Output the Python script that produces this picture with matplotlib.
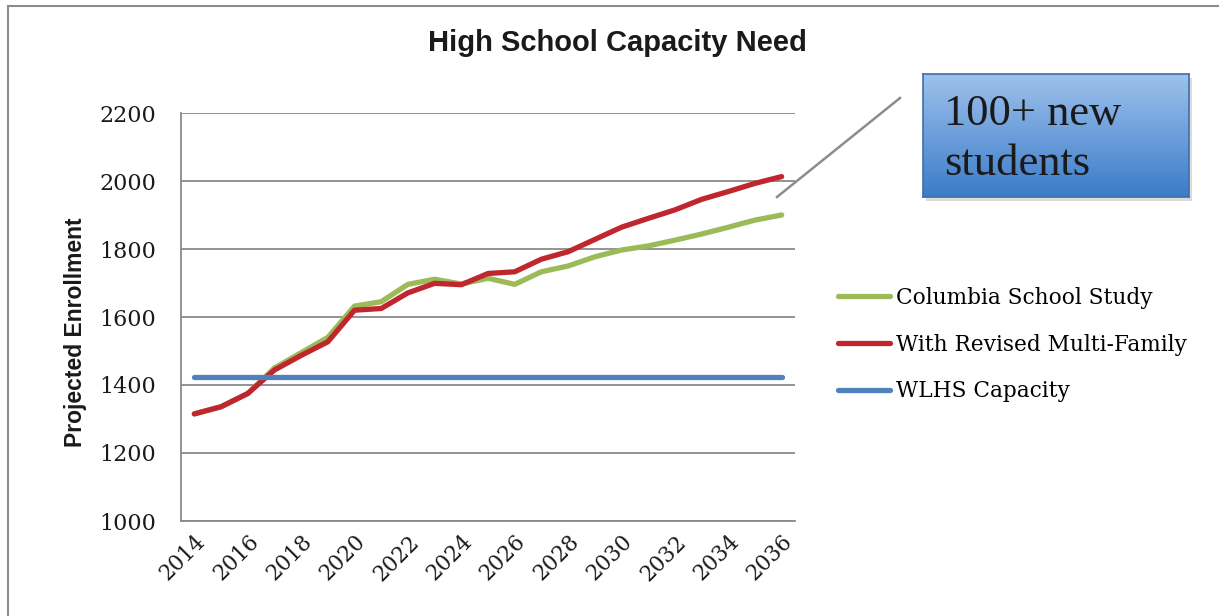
import numpy as np
import matplotlib.pyplot as plt
from matplotlib.lines import Line2D
from matplotlib.patches import Rectangle
from matplotlib.colors import LinearSegmentedColormap

years = list(range(2014, 2037))
columbia = [1315, 1336, 1375, 1450, 1495, 1540, 1632, 1645, 1696, 1711, 1697, 1714,
            1696, 1733, 1750, 1777, 1797, 1809, 1826, 1844, 1864, 1885, 1900]
revised = [1315, 1336, 1375, 1444, 1487, 1527, 1620, 1625, 1671, 1699, 1695, 1728,
           1733, 1770, 1792, 1828, 1864, 1890, 1915, 1946, 1969, 1993, 2013]
capacity = [1423, 1423, 1423, 1423, 1423, 1423, 1423, 1423, 1423, 1423, 1423, 1423,
            1423, 1423, 1423, 1423, 1423, 1423, 1423, 1423, 1423, 1423, 1423]
series_names = ["Columbia School Study", "With Revised Multi-Family", "WLHS Capacity"]
colors = ["#9BBB59", "#C0262D", "#4F81BD"]

W, H = 1219, 616


def fx(px):
    return px / W


def fy(py):
    return 1 - py / H


def main():
    fig = plt.figure(figsize=(W / 100, H / 100), dpi=100)
    ax = fig.add_axes([fx(181), fy(521), fx(795) - fx(181), fy(113) - fy(521)])

    x = np.arange(len(years))
    for vals, name, c in zip([columbia, revised, capacity], series_names, colors):
        ax.plot(x, vals, color=c, lw=3.8, label=name, solid_capstyle="round")

    ax.set_xlim(-0.5, len(years) - 0.5)
    ax.set_ylim(1000, 2200)
    ax.set_yticks(np.arange(1000, 2201, 200))
    ax.set_xticks(x[::2])
    ax.set_xticklabels([str(y) for y in years[::2]], rotation=45, ha="right",
                       va="top", rotation_mode="anchor")
    ax.grid(axis="y", color="#8a8a8a", lw=1.3)
    ax.set_axisbelow(True)
    for s in ["top", "right"]:
        ax.spines[s].set_visible(False)
    for s in ["left", "bottom"]:
        ax.spines[s].set_color("#8a8a8a")
        ax.spines[s].set_linewidth(1.3)
    ax.tick_params(axis="y", length=0, pad=18, labelsize=16, labelcolor="#1a1a1a")
    ax.tick_params(axis="x", length=0, pad=7, labelsize=15.5, labelcolor="#1a1a1a")
    for lab in ax.get_xticklabels() + ax.get_yticklabels():
        lab.set_family("DejaVu Serif")

    ax.set_ylabel("Projected Enrollment", fontsize=16.5, fontweight="bold",
                  family="Liberation Sans", color="#1a1a1a")
    ax.yaxis.set_label_coords(-0.153, 0.463)

    fig.text(fx(617), fy(43), "High School Capacity Need", ha="center", va="center",
             fontsize=21, fontweight="bold", family="Liberation Sans", color="#1a1a1a")

    ax.legend(loc="upper left", bbox_to_anchor=(fx(838), fy(287)),
              bbox_transform=fig.transFigure, frameon=False, borderpad=0,
              borderaxespad=0, handlelength=2.4, handletextpad=0.3,
              labelspacing=1.14, prop={"family": "DejaVu Serif", "size": 15.6})

    # figure frame (top and left edges only visible)
    fig.add_artist(Line2D([fx(8), fx(8)], [0, fy(6)], color="#8c8c8c", lw=1.5))
    fig.add_artist(Line2D([fx(8), 1], [fy(6), fy(6)], color="#8c8c8c", lw=1.5))

    # callout box
    shadow = Rectangle((fx(926), fy(201)), (1189 - 923) / W, (197 - 74) / H,
                       transform=fig.transFigure, color="#b9b9b9", alpha=0.5,
                       zorder=-1, lw=0)
    fig.add_artist(shadow)
    bax = fig.add_axes([fx(923), fy(197), (1189 - 923) / W, (197 - 74) / H])
    cmap = LinearSegmentedColormap.from_list("box", ["#9dc1ec", "#3c7cc9"])
    bax.imshow(np.linspace(0, 1, 100).reshape(-1, 1), cmap=cmap, aspect="auto",
               extent=[0, 1, 0, 1], origin="upper")
    bax.set_xticks([])
    bax.set_yticks([])
    for s in bax.spines.values():
        s.set_color("#3f6fa6")
        s.set_linewidth(1.2)
    fig.text(fx(944), fy(125), "100+ new", va="baseline", ha="left", fontsize=32,
             family="Liberation Serif", color="#1a1a1a", zorder=5)
    fig.text(fx(944), fy(175), "students", va="baseline", ha="left", fontsize=32,
             family="Liberation Serif", color="#1a1a1a", zorder=5)

    fig.add_artist(Line2D([fx(777), fx(900)], [fy(197), fy(98)], color="#8c8c8c", lw=1.8))

    fig.savefig("out.png", dpi=100)


if __name__ == "__main__":
    main()
